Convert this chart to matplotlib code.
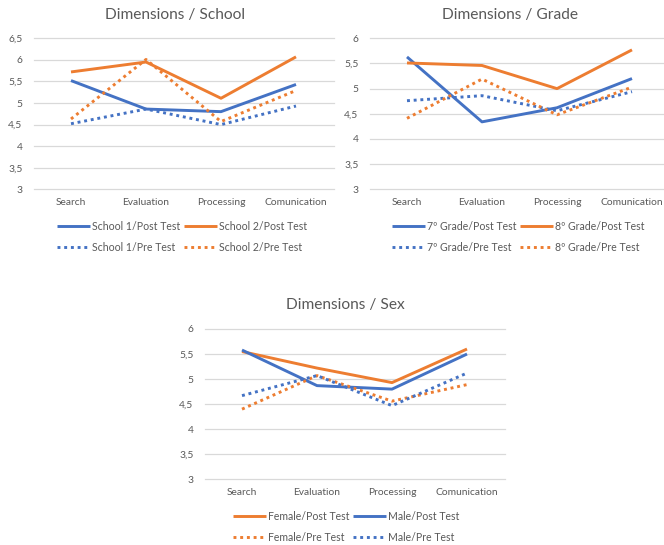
import matplotlib
matplotlib.use("Agg")
import matplotlib.pyplot as plt

# ---- data -------------------------------------------------------------
categories = ["Search", "Evaluation", "Processing", "Comunication"]

school_titles = "Dimensions / School"
school1_post = [5.52, 4.86, 4.80, 5.43]
school2_post = [5.72, 5.95, 5.11, 6.07]
school1_pre = [4.52, 4.86, 4.50, 4.93]
school2_pre = [4.63, 6.01, 4.57, 5.29]
school_ticks = [3, 3.5, 4, 4.5, 5, 5.5, 6, 6.5]
school_tick_labels = ["3", "3,5", "4", "4,5", "5", "5,5", "6", "6,5"]

grade_title = "Dimensions / Grade"
grade7_post = [5.63, 4.34, 4.62, 5.20]
grade8_post = [5.51, 5.46, 5.00, 5.77]
grade7_pre = [4.76, 4.86, 4.56, 4.94]
grade8_pre = [4.41, 5.19, 4.48, 5.03]

sex_title = "Dimensions / Sex"
female_post = [5.55, 5.22, 4.93, 5.60]
male_post = [5.58, 4.87, 4.80, 5.50]
female_pre = [4.40, 5.07, 4.56, 4.89]
male_pre = [4.67, 5.07, 4.47, 5.12]

ticks_6 = [3, 3.5, 4, 4.5, 5, 5.5, 6]
tick_labels_6 = ["3", "3,5", "4", "4,5", "5", "5,5", "6"]

# ---- style ------------------------------------------------------------
BLUE = "#4472C4"
ORANGE = "#ED7D31"
GRID = "#D9D9D9"
TEXT = "#595959"
plt.rcParams["font.family"] = ["Lato", "DejaVu Sans"]

W, H = 664, 545
fig = plt.figure(figsize=(W / 100, H / 100), dpi=100)

LW = 2.1
DOT = (0, (1, 1.3))
TICK_FS = 7.4
LEG_FS = 7.6


def make_axes(x0, x1, y_top, y_bot):
    """Axes placed by pixel edges (top-left origin)."""
    return fig.add_axes([x0 / W, 1 - y_bot / H, (x1 - x0) / W, (y_bot - y_top) / H])


def style(ax, ticks, labels, title, title_xy):
    ax.set_xlim(-0.5, 3.5)
    ax.set_ylim(ticks[0], ticks[-1])
    ax.set_xticks(range(len(categories)))
    ax.set_xticklabels(categories)
    ax.set_yticks(ticks)
    ax.set_yticklabels(labels)
    ax.tick_params(length=0, labelsize=TICK_FS, colors=TEXT)
    ax.tick_params(axis="y", pad=8)
    ax.tick_params(axis="x", pad=6.5)
    for s in ax.spines.values():
        s.set_visible(False)
    ax.yaxis.grid(True, color=GRID, lw=0.9)
    ax.set_axisbelow(True)
    for gl in ax.get_ygridlines():
        gl.set_clip_on(False)
    fig.text(title_xy[0] / W, 1 - title_xy[1] / H, title, ha="center",
             va="center", fontsize=11.2, color=TEXT)


def series(ax, values, color, dotted=False, label=None):
    if dotted:
        return ax.plot(range(len(values)), values, color=color, lw=LW,
                       linestyle=DOT, dash_capstyle="butt", label=label,
                       clip_on=False)[0]
    return ax.plot(range(len(values)), values, color=color, lw=LW,
                   solid_capstyle="butt", label=label, clip_on=False)[0]


def legend(ax, handles, x, y):
    ax.legend(handles=handles, ncol=2, loc="upper left",
              bbox_to_anchor=(x / W, 1 - y / H), bbox_transform=fig.transFigure,
              frameon=False, fontsize=LEG_FS, labelcolor=TEXT, borderpad=0,
              borderaxespad=0, handlelength=3.1, handletextpad=0.2,
              columnspacing=0.35, labelspacing=0.95)


# ---- School ----
ax1 = make_axes(33.5, 333.5, 38.3, 189.3)
style(ax1, school_ticks, school_tick_labels, school_titles, (175, 15))
h1 = series(ax1, school1_post, BLUE, label="School 1/Post Test")
h2 = series(ax1, school2_post, ORANGE, label="School 2/Post Test")
h3 = series(ax1, school1_pre, BLUE, True, label="School 1/Pre Test")
h4 = series(ax1, school2_pre, ORANGE, True, label="School 2/Pre Test")
legend(ax1, [h1, h3, h2, h4], 57, 221)

# ---- Grade ----
ax2 = make_axes(369.5, 669.5, 38.3, 189.3)
style(ax2, ticks_6, tick_labels_6, grade_title, (510, 15))
g1 = series(ax2, grade7_post, BLUE, label="7º Grade/Post Test")
g2 = series(ax2, grade8_post, ORANGE, label="8º Grade/Post Test")
g3 = series(ax2, grade7_pre, BLUE, True, label="7º Grade/Pre Test")
g4 = series(ax2, grade8_pre, ORANGE, True, label="8º Grade/Pre Test")
legend(ax2, [g1, g3, g2, g4], 392, 221)

# ---- Sex ----
ax3 = make_axes(204.5, 504.5, 329, 479.3)
style(ax3, ticks_6, tick_labels_6, sex_title, (345, 305))
s1 = series(ax3, female_post, ORANGE, label="Female/Post Test")
s2 = series(ax3, male_post, BLUE, label="Male/Post Test")
s3 = series(ax3, female_pre, ORANGE, True, label="Female/Pre Test")
s4 = series(ax3, male_pre, BLUE, True, label="Male/Pre Test")
legend(ax3, [s1, s3, s2, s4], 233, 511)

fig.savefig("out.png", dpi=100)
